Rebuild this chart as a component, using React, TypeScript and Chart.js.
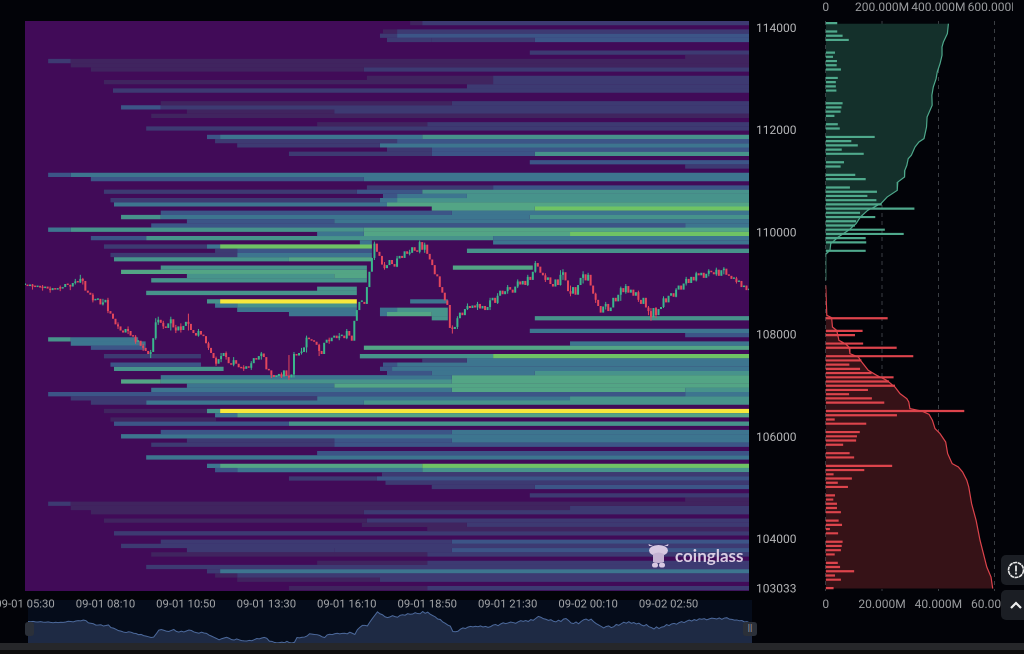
import React, { useEffect, useRef } from "react";
import { Chart, registerables } from "chart.js";

Chart.register(...registerables);

const FONT = "Roboto, 'Noto Sans', sans-serif";
const priceMin = 103002;
const priceMax = 114157;
const yTicks = [103033, 104000, 106000, 108000, 110000, 112000, 114000];
const timeTicks = [0, 160, 320, 480, 640, 800, 960, 1120, 1280];
const timeLabels = ["09-01 05:30", "09-01 08:10", "09-01 10:50", "09-01 13:30", "09-01 16:10", "09-01 18:50", "09-01 21:30", "09-02 00:10", "09-02 02:50"];
const heatColors = ["", "#40245f", "#3d3a72", "#3c5587", "#3d758f", "#47938b", "#53a585", "#6fc364", "#f6e83c"];

// [price, startMinute, level, startMinute, level, ...] each level runs on to the next start or to the end; level 0 is empty
const heatRows: number[][] = [
  [114116, 766, 1, 790, 2],
  [113951, 712, 1, 740, 2],
  [113868, 706, 2, 740, 3],
  [113786, 720, 2, 809, 2, 1014, 3],
  [113538, 1004, 2],
  [113456, 1313, 1],
  [113373, 46, 2, 91, 1],
  [113291, 91, 1],
  [113208, 131, 1, 674, 2],
  [113043, 680, 1, 931, 2],
  [112961, 157, 1, 931, 2],
  [112878, 879, 2],
  [112796, 175, 2],
  [112548, 270, 1, 849, 2],
  [112466, 191, 3, 270, 2],
  [112383, 322, 1, 615, 2],
  [112301, 251, 1],
  [112136, 581, 1, 800, 2],
  [112053, 241, 2],
  [111888, 362, 3, 388, 4, 790, 5],
  [111806, 378, 2, 740, 3],
  [111723, 422, 2, 706, 4],
  [111640, 720, 2, 809, 3],
  [111558, 525, 2, 809, 3, 1014, 5],
  [111393, 1004, 3],
  [111310, 1313, 2],
  [111145, 46, 3, 91, 4],
  [111063, 131, 3, 674, 4],
  [110898, 680, 2, 931, 3],
  [110815, 157, 2, 660, 3, 790, 5],
  [110733, 712, 3, 740, 4, 879, 5],
  [110650, 170, 2, 706, 4, 740, 5],
  [110568, 177, 4, 720, 6],
  [110485, 809, 6, 1014, 7],
  [110403, 270, 3, 849, 4],
  [110320, 191, 5, 270, 4, 1004, 5],
  [110238, 322, 3, 615, 4],
  [110155, 251, 3, 1313, 4],
  [110073, 46, 4, 91, 5, 674, 6],
  [109990, 581, 4, 674, 6, 1084, 7],
  [109908, 131, 3, 241, 5, 931, 4],
  [109825, 666, 4, 690, 0, 931, 4],
  [109743, 157, 2, 362, 4, 388, 7, 690, 0],
  [109660, 378, 2, 422, 3, 690, 0, 879, 5],
  [109577, 170, 2, 422, 4, 690, 0],
  [109495, 177, 5, 525, 6, 690, 0],
  [109330, 270, 5, 680, 0, 851, 6, 1010, 0],
  [109247, 191, 6, 680, 0],
  [109165, 322, 5, 615, 6, 680, 0],
  [109082, 251, 5, 680, 0],
  [108917, 581, 5, 660, 0],
  [108835, 241, 5, 660, 0],
  [108670, 362, 5, 388, 8, 660, 0, 766, 4, 841, 0],
  [108587, 378, 4, 422, 5, 660, 0],
  [108505, 422, 4, 660, 0, 706, 4, 740, 5, 841, 0],
  [108422, 525, 4, 660, 0, 706, 4, 720, 6, 809, 5, 841, 0],
  [108340, 809, 5, 841, 0, 1014, 5],
  [108092, 1004, 4],
  [108010, 1313, 3],
  [107927, 46, 5, 91, 4, 225, 0],
  [107844, 91, 4, 240, 0, 1084, 4],
  [107762, 131, 3, 240, 0, 674, 6],
  [107597, 157, 2, 350, 0, 666, 5, 931, 7],
  [107514, 790, 2, 879, 4],
  [107432, 170, 3, 350, 0, 712, 3, 740, 4],
  [107349, 177, 5, 395, 0, 706, 3, 730, 4],
  [107267, 720, 3, 809, 4, 1014, 5],
  [107184, 270, 4, 849, 6],
  [107102, 191, 6, 270, 5, 849, 6],
  [107019, 322, 4, 615, 6],
  [106937, 251, 4, 849, 6, 1313, 5],
  [106854, 46, 3, 1313, 4],
  [106772, 91, 2, 581, 4, 1084, 5],
  [106689, 131, 2, 241, 4, 674, 5],
  [106524, 157, 1, 362, 5, 388, 8],
  [106441, 378, 4, 422, 6],
  [106359, 170, 1, 380, 0],
  [106276, 177, 3, 525, 5],
  [106112, 270, 3, 849, 4],
  [106029, 191, 4],
  [105947, 322, 2, 615, 3, 849, 4],
  [105864, 251, 2, 615, 3],
  [105699, 581, 3],
  [105616, 241, 4],
  [105451, 362, 4, 388, 6, 790, 7],
  [105369, 378, 3, 422, 4, 790, 5],
  [105286, 710, 2],
  [105204, 525, 2, 700, 3],
  [105121, 717, 2],
  [105039, 809, 2, 1014, 3],
  [104874, 1004, 2],
  [104791, 1313, 1],
  [104709, 46, 2, 91, 1],
  [104626, 91, 1, 1084, 2],
  [104544, 131, 1, 674, 2],
  [104379, 157, 1, 680, 2],
  [104296, 670, 1, 879, 2],
  [104214, 800, 1],
  [104131, 177, 2],
  [103966, 270, 2, 849, 3],
  [103884, 191, 2],
  [103801, 322, 2, 615, 2, 849, 3],
  [103718, 251, 1, 800, 2],
  [103553, 581, 1, 800, 2],
  [103471, 241, 2],
  [103388, 362, 2, 388, 4],
  [103306, 378, 1, 422, 2],
  [103223, 422, 1, 706, 2],
  [103058, 525, 1, 800, 2],
];

// closing price of each 5-minute candle
const closes = [
  108990, 108970, 109000, 108960, 108950, 108975, 108940, 108930, 108960, 108920, 108890, 108930, 108900, 108930, 108920, 108950, 109010, 108990, 108960, 109030, 109060, 109040, 109110, 109070,
  108880, 108840, 108800, 108690, 108700, 108720, 108610, 108650, 108700, 108480, 108430, 108330, 108220, 108180, 108100, 108060, 108130, 108090, 108000, 107980, 107880, 107900, 107800, 107760, 107700, 107640, 107680,
  107950, 108260, 108310, 108250, 108180, 108150, 108240, 108320, 108160, 108100,
  108180, 108110, 108190, 108270, 108230, 108110, 108050, 108000, 108090, 108020, 107990, 107850, 107760, 107660, 107560, 107450, 107540,
  107600, 107660, 107580, 107460, 107430, 107520, 107450, 107380, 107360, 107350, 107400, 107370, 107460, 107560, 107530, 107600, 107650, 107580, 107340, 107320, 107230, 107190, 107210, 107250, 107200, 107320, 107210, 107180, 107240,
  107640, 107610, 107660, 107680, 107770, 107960, 107930, 107900, 107880, 107820, 107700, 107640, 107860, 107920, 107890, 107960, 108000, 107950, 107990, 108000, 107950, 108090, 108000, 107900,
  108290, 108500, 108660, 108660, 108620, 108950, 109250, 109520, 109800, 109640,
  109560, 109390, 109320, 109380, 109480, 109400, 109350, 109510, 109560, 109520, 109650, 109600, 109620, 109730, 109660, 109640, 109830, 109680, 109780, 109600, 109490, 109380, 109200, 109160, 108950, 108840, 108690, 108600, 108150, 108130,
  108170, 108340, 108450, 108400, 108520, 108580, 108540, 108590, 108550, 108620, 108530, 108580, 108500, 108560, 108690, 108740, 108640, 108780, 108880, 108810, 108870, 108950, 108900, 108840, 108960, 109060, 109000, 109070, 108990, 109150, 109090, 109250, 109420, 109350, 109230, 109180, 109090, 109140, 109010, 108960, 109100, 108990, 109190, 109240, 109080, 108870, 108820, 108950, 108800, 108990, 109130, 109200, 109080, 109190, 108980, 108820, 108700, 108580, 108450, 108570, 108620, 108480, 108550, 108740, 108670, 108800, 108930, 108850, 108970, 108840, 108900, 108780, 108850, 108700, 108620, 108740, 108550, 108480, 108360, 108540, 108400, 108520, 108560, 108730, 108650, 108780, 108830, 108760, 108900, 108980, 108900, 109020, 109110, 109030, 109150, 109080, 109220, 109180, 109230, 109130, 109210, 109270, 109240, 109200, 109290, 109170, 109280, 109310, 109190, 109170, 109110, 109120, 109050, 109070, 108950, 108980, 108890, 108900,
];
// [candle index, low, high] for the wicks that stand out
const wicks = [
  [3, 108900, 109010], [7, 108880, 108990], [10, 108840, 108960], [14, 108870, 108980], [18, 108890, 109000], [20, 109000, 109110], [22, 109030, 109190], [23, 109000, 109130],
  [27, 108650, 108830], [31, 108590, 108720], [33, 108440, 108740], [37, 108130, 108260], [41, 108030, 108180], [44, 107840, 108010], [47, 107700, 107840], [50, 107560, 107720],
  [52, 107920, 108340], [53, 108210, 108370], [55, 108130, 108290], [58, 108100, 108370], [60, 108050, 108210], [62, 108060, 108240], [65, 108100, 108430], [69, 107980, 108130], [73, 107720, 107880], [76, 107410, 107590], [78, 107480, 107660], [80, 107530, 107690], [83, 107400, 107580], [87, 107310, 107420], [90, 107330, 107500],
  [94, 107530, 107680], [98, 107170, 107290], [102, 107170, 107280], [105, 107130, 107620], [107, 107180, 107680], [110, 107630, 107760], [112, 107670, 108000], [117, 107600, 107840], [121, 107840, 107960], [125, 107910, 108050], [128, 107930, 108130],
  [139, 109480, 109840], [143, 109290, 109440], [148, 109340, 109560], [153, 109570, 109680], [157, 109610, 109860], [159, 109620, 109820], [170, 108040, 108200], [172, 108130, 108380], [176, 108500, 108630], [180, 108500, 108660], [185, 108500, 108740], [188, 108620, 108830], [192, 108820, 108990], [196, 108930, 109100], [200, 108970, 109190], [203, 109230, 109460], [207, 109050, 109220], [213, 108980, 109280], [214, 109090, 109300], [217, 108770, 108980], [222, 109020, 109260], [224, 109070, 109230], [227, 108640, 108840],
  [231, 108510, 108660], [237, 108680, 108960], [239, 108820, 109010], [244, 108660, 108880], [248, 108400, 108580], [249, 108290, 108540], [251, 108340, 108560], [254, 108540, 108770], [259, 108750, 108930], [263, 108980, 109150], [267, 109060, 109250], [272, 109160, 109300], [275, 109170, 109330], [278, 109200, 109340], [283, 109020, 109150],
];

const greenPrices = [114116, 113951, 113868, 113786, 113538, 113456, 113373, 113291, 113208, 113043, 112961, 112878, 112796, 112548, 112466, 112383, 112301, 112136, 112053, 111888, 111806, 111723, 111640, 111558, 111393, 111310, 111145, 111063, 110898, 110815, 110733, 110650, 110568, 110485, 110403, 110320, 110238, 110155, 110073, 109990, 109908, 109825, 109660];
const greenBars = [4.1, 4.1, 6, 8.2, 3.3, 2.6, 4, 3.9, 5.4, 4.3, 3.6, 3.6, 3.8, 6, 5.6, 5.3, 3.1, 4.3, 5, 17.4, 9.1, 11.4, 5.7, 13.5, 6.5, 5.3, 10.5, 14.2, 8.6, 18.2, 14.8, 18, 19.9, 31.5, 12.2, 17.6, 10.8, 10.4, 21, 27.7, 14.2, 14.4, 14.2];
const redPrices = [108340, 108092, 108010, 107844, 107762, 107597, 107514, 107432, 107349, 107267, 107184, 107102, 107019, 106937, 106854, 106772, 106689, 106524, 106441, 106359, 106276, 106112, 106029, 105947, 105864, 105699, 105616, 105451, 105369, 105286, 105204, 105121, 105039, 104874, 104791, 104709, 104626, 104544, 104379, 104296, 104214, 104131, 103966, 103884, 103801, 103718, 103553, 103471, 103388, 103306, 103223, 103058];
const redBars = [22, 13.1, 10.4, 13.3, 25.2, 31.1, 12.7, 8.4, 12.2, 16.3, 24.1, 22.5, 24.6, 15, 8.3, 16.4, 20.8, 49.2, 25.3, 3.2, 14.4, 12.1, 11.1, 10.8, 6.2, 8.5, 10.1, 23.6, 13.7, 2.8, 9.3, 4.3, 7.9, 3.3, 2.7, 4, 4, 5.4, 4.6, 5.8, 1.5, 4.4, 6, 5.7, 5.4, 3.2, 4.3, 5.1, 10.1, 3.3, 5.4, 2.8];

const greenLinePrices = [114105, 113910, 113746, 113648, 113485, 113323, 113158, 113029, 112865, 112703, 112507, 112278, 112082, 111855, 111789, 111691, 111528, 111463, 111331, 111235, 111104, 111006, 110843, 110712, 110582, 110452, 110321, 110191, 110061, 109930, 109800, 109669, 109591, 109082];
const greenLine = [435.7, 432, 418, 413, 413, 406, 396, 392, 382, 377, 378, 360, 358, 349, 331, 317, 304, 293, 288, 281, 280, 256, 254, 218, 196, 149, 123, 108, 81, 45, 18, 15, 0, 0];
const redLinePrices = [108984, 108397, 108352, 108168, 108103, 107908, 107843, 107777, 107647, 107581, 107483, 107321, 107223, 107125, 106994, 106864, 106766, 106701, 106571, 106524, 106460, 106342, 106180, 106082, 105918, 105691, 105495, 105430, 105332, 105170, 105038, 104712, 104385, 103994, 103733, 103471, 103276, 103049];
const redLine = [0, 0.4, 2.1, 2.4, 3.9, 4.7, 6.9, 8.3, 8.6, 11.6, 12.8, 15.1, 18.1, 21.7, 24.6, 26.4, 28.8, 29.5, 29.9, 34.1, 36.7, 37.9, 38.8, 40.6, 42.6, 43.3, 44.9, 47.1, 48.6, 50.1, 50.8, 51.8, 53.4, 54.8, 56, 57.2, 58.7, 59.3];

const bottomTicks = [0, 20, 40, 60];
const topTicks = [0, 200, 400, 600];
const END_MINUTE = 1440;
const CANDLE_MINUTES = 5;

function heatDataset(level: number) {
  const data: { x: number[]; y: number }[] = [];
  heatRows.forEach((row) => {
    for (let i = 1; i < row.length; i += 2) {
      if (row[i + 1] !== level) continue;
      const end = i + 2 < row.length ? row[i + 2] : END_MINUTE;
      data.push({ x: [row[i], end], y: row[0] });
    }
  });
  return { type: "bar", indexAxis: "y", data, backgroundColor: heatColors[level], barThickness: 4.3, grouped: false, order: 10, inflateAmount: 0 };
}

function candleDatasets() {
  const ups: any[] = [];
  const downs: any[] = [];
  closes.forEach((c, i) => {
    const o = i === 0 ? c : closes[i - 1];
    (c >= o ? ups : downs).push({ x: i * CANDLE_MINUTES, y: [Math.min(o, c), Math.max(o, c)] });
  });
  const upW: any[] = [];
  const downW: any[] = [];
  wicks.forEach(([idx, lo, hi]) => {
    const o = idx === 0 ? closes[0] : closes[idx - 1];
    (closes[idx] >= o ? upW : downW).push({ x: idx * CANDLE_MINUTES, y: [lo, hi] });
  });
  const base = { type: "bar", indexAxis: "x", grouped: false, inflateAmount: 0, minBarLength: 1.5 };
  return [
    { ...base, data: ups, backgroundColor: "#3ab78c", barThickness: 2, order: 1 },
    { ...base, data: downs, backgroundColor: "#e4465c", barThickness: 2, order: 1 },
    { ...base, data: upW, backgroundColor: "#3ab78c", barThickness: 1, order: 2 },
    { ...base, data: downW, backgroundColor: "#e4465c", barThickness: 1, order: 2 },
  ];
}

const plotBg = {
  id: "plotBg",
  beforeDatasetsDraw(chart: any) {
    const { ctx, chartArea: a } = chart;
    ctx.save();
    ctx.fillStyle = "#410b58";
    ctx.fillRect(a.left, a.top, a.right - a.left, a.bottom - a.top);
    ctx.restore();
  },
};

function xy(xs: number[], ys: number[]) {
  return xs.map((x, i) => ({ x, y: ys[i] }));
}

const fitHeight = (h: number) => (s: any) => { s.height = h; s.paddingLeft = 0; s.paddingRight = 0; };
const fitWidth = (w: number) => (s: any) => { s.width = w; s.paddingTop = 0; s.paddingBottom = 0; };

export default function App() {
  const heatRef = useRef<HTMLCanvasElement>(null);
  const panelRef = useRef<HTMLCanvasElement>(null);
  const navRef = useRef<HTMLCanvasElement>(null);

  useEffect(() => {
    document.body.style.margin = "0";
    document.body.style.background = "#020308";
    const tickFont = { family: FONT, size: 12 };
    const heat = new Chart(heatRef.current as any, {
      type: "bar",
      plugins: [plotBg],
      data: {
        datasets: [...candleDatasets(), 1, 2, 3, 4, 5, 6, 7, 8].map((d: any) => (typeof d === "number" ? heatDataset(d) : d)) as any,
      },
      options: {
        indexAxis: "y",
        animation: false,
        responsive: false,
        devicePixelRatio: 2,
        layout: { autoPadding: false, padding: { top: 21, left: 25, right: 0, bottom: 0 } },
        plugins: { legend: { display: false }, tooltip: { enabled: false } },
        scales: {
          x: {
            type: "linear", min: 0, max: END_MINUTE, offset: false, beginAtZero: false,
            grid: { display: false, drawTicks: false }, border: { display: false },
            afterFit: fitHeight(27),
            afterBuildTicks: (s: any) => { s.ticks = timeTicks.map((value) => ({ value })); },
            ticks: { color: "#a3a5a8", font: { family: FONT, size: 11.3 }, maxRotation: 0, autoSkip: false, padding: 7, callback: (v: any) => timeLabels[timeTicks.indexOf(v)] },
          },
          y: {
            type: "linear", position: "right", min: priceMin, max: priceMax, offset: false, beginAtZero: false,
            grid: { display: false, drawTicks: false }, border: { display: false },
            afterFit: fitWidth(51),
            afterBuildTicks: (s: any) => { s.ticks = yTicks.map((value) => ({ value })); },
            ticks: { color: "#b4b5b7", font: tickFont, autoSkip: false, padding: 7, callback: (v: any) => String(v) },
          },
        },
      } as any,
    });

    const panel = new Chart(panelRef.current as any, {
      type: "bar",
      data: {
        datasets: [
          { type: "bar", indexAxis: "y", data: xy(greenBars, greenPrices), backgroundColor: "#4fa98c", barThickness: 2.2, grouped: false, xAxisID: "x", order: 1, inflateAmount: 0 },
          { type: "bar", indexAxis: "y", data: xy(redBars, redPrices), backgroundColor: "#dd444c", barThickness: 2.2, grouped: false, xAxisID: "x", order: 1, inflateAmount: 0 },
          { type: "line", indexAxis: "y", data: xy(greenLine, greenLinePrices), borderColor: "#4fa98c", borderWidth: 1.2, pointRadius: 0, fill: "origin", backgroundColor: "#14302b", xAxisID: "xTop", order: 2 },
          { type: "line", indexAxis: "y", data: xy(redLine, redLinePrices), borderColor: "#dd444c", borderWidth: 1.2, pointRadius: 0, fill: "origin", backgroundColor: "#361217", xAxisID: "x", order: 2 },
        ] as any,
      },
      options: {
        indexAxis: "y",
        animation: false,
        responsive: false,
        devicePixelRatio: 2,
        layout: { autoPadding: false, padding: { top: 0, left: 25.7, right: 0, bottom: 0 } },
        plugins: { legend: { display: false }, tooltip: { enabled: false }, filler: { drawTime: "beforeDatasetsDraw" } },
        scales: {
          x: {
            type: "linear", axis: "x", position: "bottom", min: 0, max: 66.5, offset: false, beginAtZero: true,
            grid: { display: false, drawTicks: false }, border: { display: false },
            afterFit: fitHeight(29),
            afterBuildTicks: (s: any) => { s.ticks = bottomTicks.map((value) => ({ value })); },
            ticks: { color: "#9a9c9f", font: tickFont, maxRotation: 0, autoSkip: false, padding: 7, callback: (v: any) => (v === 0 ? "0" : `${v}.000M`) },
          },
          xTop: {
            type: "linear", axis: "x", position: "top", min: 0, max: 665, offset: false, beginAtZero: true,
            grid: { color: "#3b3f44", lineWidth: 1, drawTicks: false },
            border: { display: false, dash: [4, 4] },
            afterFit: fitHeight(21),
            afterBuildTicks: (s: any) => { s.ticks = topTicks.map((value) => ({ value })); },
            ticks: { color: "#9a9c9f", font: tickFont, maxRotation: 0, autoSkip: false, padding: 6, callback: (v: any) => (v === 0 ? "0" : `${v}.000M`) },
          },
          y: { type: "linear", display: false, min: priceMin, max: priceMax, offset: false, beginAtZero: false },
        },
      } as any,
    });

    const nav = new Chart(navRef.current as any, {
      type: "line",
      data: {
        datasets: [{ data: closes.map((c, i) => ({ x: i * CANDLE_MINUTES, y: c })), borderColor: "#4d6a9c", borderWidth: 1, pointRadius: 0, fill: "start", backgroundColor: "#1e2a44" }],
      },
      options: {
        animation: false,
        responsive: false,
        devicePixelRatio: 2,
        layout: { autoPadding: false },
        plugins: { legend: { display: false }, tooltip: { enabled: false } },
        scales: {
          x: { type: "linear", display: false, min: 0, max: END_MINUTE },
          y: { type: "linear", display: false, min: 107180, max: 110800 },
        },
      } as any,
    });
    return () => { heat.destroy(); panel.destroy(); nav.destroy(); };
  }, []);

  const abs = (left: number, top: number, width: number, height: number, extra: any = {}) => ({ position: "absolute" as const, left, top, width, height, ...extra });

  return (
    <div style={{ position: "relative", width: 1024, height: 654, overflow: "hidden", background: "#020308", fontFamily: FONT }}>
      <div style={abs(28, 600, 724, 43, { background: "#050c1a" })} />
      <canvas ref={navRef} width={724} height={43} style={abs(28, 600, 724, 43)} />
      <canvas ref={heatRef} width={800} height={618} style={abs(0, 0, 800, 618)} />
      <canvas ref={panelRef} width={213} height={620} style={abs(800, 0, 213, 620)} />

      <div style={abs(25, 622, 9, 14, { background: "#2b3039", borderRadius: 3 })} />
      <div style={abs(743, 622, 14, 14, { background: "#2b3039", borderRadius: 3, color: "#aeb1b6", fontSize: 9, lineHeight: "13px", textAlign: "center" })}>||</div>

      <div style={abs(0, 643, 1024, 7, { background: "#26272a" })} />
      <div style={abs(0, 650, 1024, 4, { background: "#0d0c0c" })} />

      <svg style={abs(648, 543, 22, 26)} viewBox="0 0 22 26">
        <ellipse cx="10.5" cy="7.5" rx="9.5" ry="5.5" fill="#d7c8e1" />
        <path fill="#d7c8e1" d="M1 3 L0.5 1 L5 3 Z M20 3 L20.5 1 L16 3 Z" />
        <path fill="#c5b3d3" d="M5 11 Q10.5 8 16 11 L16 19 Q10.5 21 5 19 Z" />
        <ellipse cx="7" cy="22" rx="3" ry="2.6" fill="#d7c8e1" />
        <ellipse cx="14" cy="22" rx="3" ry="2.6" fill="#d7c8e1" />
      </svg>
      <div style={abs(675, 545, 76, 22, { color: "#d9cce2", fontSize: 17, fontFamily: "Lato, sans-serif", fontWeight: 700, lineHeight: "22px", whiteSpace: "nowrap" })}>coinglass</div>

      <div style={abs(1001, 555, 30, 30, { background: "#1b1e24", borderRadius: 5 })} />
      <svg style={abs(1006, 560, 20, 20)} viewBox="0 0 20 20">
        <circle cx="10" cy="10" r="7.5" fill="none" stroke="#e8e8e8" strokeWidth="1.6" strokeDasharray="4 0.6" />
        <rect x="9.1" y="5.5" width="1.8" height="6" fill="#e8e8e8" />
        <rect x="9.1" y="12.6" width="1.8" height="1.9" fill="#e8e8e8" />
      </svg>
      <div style={abs(1001, 590, 30, 30, { background: "#1b1e24", borderRadius: 5 })} />
      <svg style={abs(1009, 599, 14, 12)} viewBox="0 0 14 12">
        <path d="M2 9 L7 4 L12 9" fill="none" stroke="#ededed" strokeWidth="2.2" />
      </svg>
    </div>
  );
}
